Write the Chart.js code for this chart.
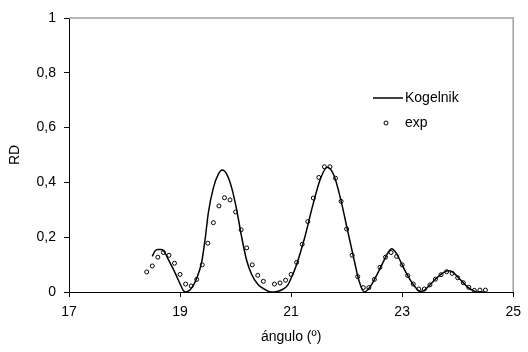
<!DOCTYPE html>
<html>
<head>
<meta charset="utf-8">
<script src="https://cdn.jsdelivr.net/npm/chart.js@4.4.1/dist/chart.umd.min.js"></script>
<style>
  html, body { margin: 0; padding: 0; background: #fff; }
  canvas { display: block; }
</style>
</head>
<body>
<canvas id="chart" width="528" height="352"></canvas>
<script>
// Kogelnik curve
const kogX = [18.50, 18.55, 18.60, 18.65, 18.70, 18.79, 18.91, 19.00, 19.06, 19.10, 19.15, 19.21, 19.30, 19.39, 19.45,
  19.51, 19.60, 19.69, 19.76, 19.84, 19.93, 20.02, 20.11, 20.20, 20.29, 20.40, 20.52, 20.64, 20.75, 20.85,
  20.94, 21.00, 21.09, 21.24, 21.39, 21.53, 21.65, 21.77, 21.89, 22.01, 22.13, 22.22, 22.32, 22.42, 22.54,
  22.66, 22.75, 22.81, 22.90, 22.99, 23.08, 23.17, 23.26, 23.32, 23.40, 23.49, 23.61, 23.73, 23.82, 23.91,
  24.00, 24.09, 24.18, 24.27, 24.36, 24.50];
const kogY = [0.130, 0.150, 0.155, 0.155, 0.152, 0.118, 0.070, 0.030, 0.005, 0.000, 0.003, 0.015, 0.050, 0.110, 0.190,
  0.290, 0.380, 0.430, 0.445, 0.430, 0.380, 0.300, 0.200, 0.115, 0.064, 0.028, 0.010, 0.000, 0.002, 0.010,
  0.025, 0.050, 0.095, 0.195, 0.316, 0.414, 0.455, 0.426, 0.341, 0.231, 0.122, 0.043, 0.000, 0.018, 0.061,
  0.110, 0.145, 0.158, 0.140, 0.103, 0.067, 0.036, 0.012, 0.002, 0.006, 0.024, 0.049, 0.069, 0.078, 0.073,
  0.055, 0.036, 0.018, 0.006, 0.000, 0.000];

// measured points
const expX = [18.4, 18.5, 18.6, 18.7, 18.8, 18.9, 19.0, 19.1, 19.2, 19.3, 19.4, 19.5, 19.6, 19.7, 19.8, 19.9,
  20.0, 20.1, 20.2, 20.3, 20.4, 20.5, 20.7, 20.8, 20.9, 21.0, 21.1, 21.2, 21.3, 21.4, 21.5, 21.6, 21.7,
  21.8, 21.9, 22.0, 22.1, 22.2, 22.3, 22.4, 22.5, 22.6, 22.7, 22.8, 22.9, 23.0, 23.1, 23.2, 23.3, 23.4,
  23.5, 23.6, 23.7, 23.8, 23.9, 24.0, 24.1, 24.2, 24.3, 24.4, 24.5];
const expY = [0.073, 0.095, 0.127, 0.144, 0.134, 0.105, 0.064, 0.029, 0.022, 0.046, 0.099, 0.178, 0.253, 0.314, 0.344, 0.336,
  0.292, 0.227, 0.161, 0.099, 0.061, 0.039, 0.029, 0.033, 0.043, 0.064, 0.108, 0.174, 0.257, 0.343, 0.418, 0.457, 0.457,
  0.415, 0.331, 0.230, 0.134, 0.056, 0.016, 0.016, 0.046, 0.090, 0.127, 0.144, 0.130, 0.099, 0.060, 0.029, 0.011, 0.011,
  0.026, 0.047, 0.063, 0.074, 0.068, 0.052, 0.034, 0.017, 0.006, 0.007, 0.007];

const xTicks = [17, 19, 21, 23, 25];
const yTicks = [0, 0.2, 0.4, 0.6, 0.8, 1];

const FONT = "'Liberation Sans', Arial, sans-serif";

// gray frame on top/right + legend inside the plot
const framePlugin = {
  id: "frameAndLegend",
  afterDraw(chart) {
    const ctx = chart.ctx;
    const a = chart.chartArea;
    ctx.save();
    ctx.strokeStyle = "#a0a0a0";
    ctx.lineWidth = 1.5;
    ctx.beginPath();
    ctx.moveTo(a.left, a.top);
    ctx.lineTo(a.right, a.top);
    ctx.lineTo(a.right, a.bottom);
    ctx.stroke();

    const ds = chart.data.datasets;
    ctx.font = "14px " + FONT;
    ctx.fillStyle = "#000";
    ctx.textBaseline = "middle";
    // line item
    ctx.strokeStyle = "#000";
    ctx.lineWidth = 1.5;
    ctx.beginPath();
    ctx.moveTo(373, 98);
    ctx.lineTo(403, 98);
    ctx.stroke();
    ctx.fillText(ds[0].label, 405, 98);
    // marker item
    ctx.lineWidth = 1;
    ctx.beginPath();
    ctx.arc(386, 123, 2, 0, Math.PI * 2);
    ctx.stroke();
    ctx.fillText(ds[1].label, 405, 123);
    ctx.restore();
  }
};

new Chart(document.getElementById("chart").getContext("2d"), {
  type: "scatter",
  data: {
    datasets: [
      {
        type: "line",
        label: "Kogelnik",
        data: kogX.map((x, i) => ({ x: x, y: kogY[i] })),
        borderColor: "#000",
        borderWidth: 1.5,
        pointRadius: 0,
        cubicInterpolationMode: "monotone",
        fill: false
      },
      {
        label: "exp",
        data: expX.map((x, i) => ({ x: x, y: expY[i] })),
        pointStyle: "circle",
        pointRadius: 2,
        borderColor: "#000",
        borderWidth: 1,
        backgroundColor: "rgba(255,255,255,0)"
      }
    ]
  },
  options: {
    responsive: false,
    animation: false,
    layout: { padding: { top: 18, right: 10, left: 0, bottom: 0 } },
    plugins: { legend: { display: false }, tooltip: { enabled: false } },
    scales: {
      x: {
        type: "linear",
        min: xTicks[0],
        max: xTicks[xTicks.length - 1],
        afterBuildTicks: (scale) => { scale.ticks = xTicks.map(v => ({ value: v })); },
        afterFit: (scale) => { scale.height = 60; },
        ticks: { color: "#000", font: { family: FONT, size: 14 }, padding: 7, maxRotation: 0 },
        grid: { drawOnChartArea: false, drawTicks: true, tickLength: 5, color: "#000" },
        border: { color: "#000", width: 1 },
        title: { display: true, text: "ángulo (º)", color: "#000", font: { family: FONT, size: 14 }, padding: { top: 4, bottom: 6 } }
      },
      y: {
        min: yTicks[0],
        max: yTicks[yTicks.length - 1],
        afterBuildTicks: (scale) => { scale.ticks = yTicks.map(v => ({ value: v })); },
        afterFit: (scale) => { scale.width = 69; },
        ticks: {
          color: "#000",
          font: { family: FONT, size: 14 },
          padding: 8,
          callback: (v) => String(+v.toFixed(1)).replace(".", ",")
        },
        grid: { drawOnChartArea: false, drawTicks: true, tickLength: 5, color: "#000" },
        border: { color: "#000", width: 1 },
        title: { display: true, text: "RD", color: "#000", font: { family: FONT, size: 14 }, padding: { top: 7, bottom: 0 } }
      }
    }
  },
  plugins: [framePlugin]
});
</script>
</body>
</html>
